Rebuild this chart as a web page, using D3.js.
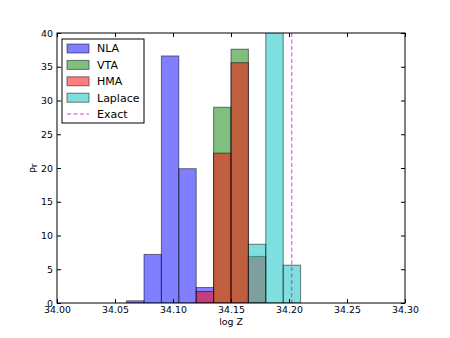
<!DOCTYPE html>
<html>
<head>
<meta charset="utf-8">
<script src="https://cdn.jsdelivr.net/npm/d3@7"></script>
<style>
  body { margin: 0; background: #fff; }
  text { font-family: "DejaVu Sans", sans-serif; fill: #000; }
</style>
</head>
<body>
<div id="chart"></div>
<script>
// bin edges shared by all histograms
const binEdges = [34.06, 34.075, 34.09, 34.105, 34.12, 34.135, 34.15, 34.165, 34.18, 34.195, 34.21];
const nla = [0.33, 7.2, 36.6, 19.9, 2.3, 0, 0, 0, 0, 0];
const vta = [0, 0, 0, 0, 0, 29.0, 37.6, 0, 0, 0];
const hma = [0, 0, 0, 0, 1.7, 22.2, 35.6, 6.9, 0, 0];
const laplace = [0, 0, 0, 0, 0, 0, 0, 8.7, 52.3, 5.6];
const exactValue = 34.2023;
const seriesNames = ["NLA", "VTA", "HMA", "Laplace"];
const xTicks = [34.00, 34.05, 34.10, 34.15, 34.20, 34.25, 34.30];
const yTicks = [0, 5, 10, 15, 20, 25, 30, 35, 40];

function drawHist(containerId) {
    const W = 450, H = 338;
    const margin = { top: 33, right: 45, bottom: 35, left: 57 },
        width = W - margin.left - margin.right,
        height = H - margin.top - margin.bottom;

    const svg = d3.select(`#${containerId}`)
        .append("svg")
        .attr("width", W)
        .attr("height", H);

    const g = svg.append("g")
        .attr("transform", `translate(${margin.left},${margin.top})`);

    const x = d3.scaleLinear().domain([34.00, 34.30]).range([0, width]);
    const y = d3.scaleLinear().domain([0, 40]).range([height, 0]);

    g.append("clipPath").attr("id", "plotclip")
        .append("rect").attr("width", width).attr("height", height);

    const colors = ["#0000ff", "#008000", "#ff0000", "#00bfbf"];
    const series = [nla, vta, hma, laplace];

    const plot = g.append("g").attr("clip-path", "url(#plotclip)");

    series.forEach((vals, si) => {
        const bars = vals.map((v, i) => ({ x0: binEdges[i], x1: binEdges[i + 1], v }))
            .filter(d => d.v > 0);
        plot.append("g")
            .selectAll("rect")
            .data(bars)
            .join("rect")
            .attr("x", d => x(d.x0))
            .attr("y", d => y(d.v))
            .attr("width", d => x(d.x1) - x(d.x0))
            .attr("height", d => y(0) - y(d.v))
            .attr("fill", colors[si])
            .attr("fill-opacity", 0.5)
            .attr("stroke", "#000")
            .attr("stroke-opacity", 0.5)
            .attr("stroke-width", 1);
    });

    // exact value line
    plot.append("line")
        .attr("x1", x(exactValue)).attr("x2", x(exactValue))
        .attr("y1", 0).attr("y2", height)
        .attr("stroke", "#bf00bf")
        .attr("stroke-opacity", 0.5)
        .attr("stroke-width", 1.5)
        .attr("stroke-dasharray", "4,2.5");

    // axes with inward ticks on all four sides
    const fmtX = d3.format(".2f");
    g.append("g")
        .attr("transform", `translate(0,${height})`)
        .call(d3.axisBottom(x).tickValues(xTicks).tickFormat(fmtX).tickSizeInner(-4).tickSizeOuter(0).tickPadding(3))
        .call(a => a.select(".domain").remove());
    g.append("g")
        .call(d3.axisTop(x).tickValues(xTicks).tickFormat("").tickSizeInner(-4).tickSizeOuter(0))
        .call(a => a.select(".domain").remove());
    g.append("g")
        .call(d3.axisLeft(y).tickValues(yTicks).tickFormat(d3.format("d")).tickSizeInner(-4).tickSizeOuter(0).tickPadding(4))
        .call(a => a.select(".domain").remove());
    g.append("g")
        .attr("transform", `translate(${width},0)`)
        .call(d3.axisRight(y).tickValues(yTicks).tickFormat("").tickSizeInner(-4).tickSizeOuter(0))
        .call(a => a.select(".domain").remove());

    g.selectAll(".tick text").style("font-size", "9.4px").style("font-family", "DejaVu Sans");
    g.selectAll(".tick line").attr("stroke", "#000");

    g.append("rect")
        .attr("width", width).attr("height", height)
        .attr("fill", "none").attr("stroke", "#000").attr("stroke-width", 1);

    // axis labels
    svg.append("text")
        .attr("x", margin.left + width / 2).attr("y", 325)
        .attr("text-anchor", "middle")
        .style("font-size", "9.4px")
        .text("log Z");
    svg.append("text")
        .attr("transform", `translate(37,${margin.top + height / 2}) rotate(-90)`)
        .attr("text-anchor", "middle")
        .style("font-size", "9.4px")
        .text("Pr");

    // legend
    const leg = svg.append("g").attr("transform", "translate(62,39)");
    leg.append("rect")
        .attr("width", 82).attr("height", 84)
        .attr("fill", "#fff").attr("stroke", "#000").attr("stroke-width", 1);
    const rowY = i => 9.5 + i * 16.4;
    seriesNames.forEach((name, i) => {
        leg.append("rect")
            .attr("x", 5).attr("y", rowY(i) - 4.5)
            .attr("width", 22).attr("height", 9)
            .attr("fill", colors[i]).attr("fill-opacity", 0.5)
            .attr("stroke", "#000").attr("stroke-opacity", 0.5);
        leg.append("text")
            .attr("x", 35).attr("y", rowY(i))
            .attr("dy", "0.35em")
            .style("font-size", "11px")
            .text(name);
    });
    leg.append("line")
        .attr("x1", 5).attr("x2", 27)
        .attr("y1", rowY(4)).attr("y2", rowY(4))
        .attr("stroke", "#bf00bf").attr("stroke-opacity", 0.5)
        .attr("stroke-width", 1.5)
        .attr("stroke-dasharray", "4,2.5");
    leg.append("text")
        .attr("x", 35).attr("y", rowY(4))
        .attr("dy", "0.35em")
        .style("font-size", "11px")
        .text("Exact");
}

drawHist("chart");
</script>
</body>
</html>
